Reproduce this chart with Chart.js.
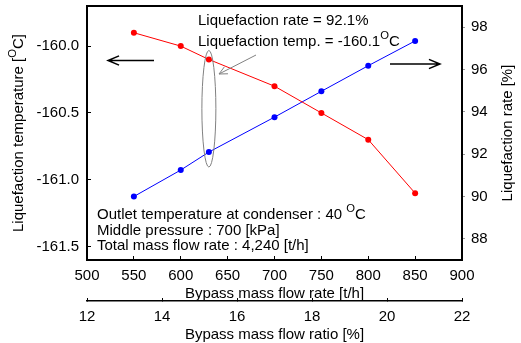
<!DOCTYPE html>
<html>
<head>
    <title>Liquefaction vs bypass flow</title>
    <script src="https://cdn.jsdelivr.net/npm/chart.js"></script>
</head>
<body style="margin: 0; background-color: #ffffff;">
    <div style="width: 521px; height: 343px;">
        <canvas id="myChart" width="521" height="343"></canvas>
    </div>

    <script>
        // Values
        var flowRate = [550, 600, 630, 700, 750, 800, 850];          // [t/h]
        var liqTemp = [-159.90, -160.00, -160.10, -160.30, -160.50, -160.70, -161.10]; // [oC]
        var liqRate = [90.0, 91.25, 92.1, 93.75, 94.97, 96.18, 97.35];  // [%]

        // axis ranges and tick labels
        var flowRange = [500, 900];
        var flowTickVals = [500, 550, 600, 650, 700, 750, 800, 850, 900];
        var ratioRange = [12, 22];
        var ratioTickVals = [12, 14, 16, 18, 20, 22];
        var tempRange = [-161.6, -159.7];
        var tempTickVals = [-161.5, -161.0, -160.5, -160.0];
        var rateRange = [87, 99];
        var rateTickVals = [88, 90, 92, 94, 96, 98];

        var FONT = "'Liberation Sans', Arial, sans-serif";
        var ctx = document.getElementById('myChart').getContext('2d');

        function pts(xs, ys) {
            return xs.map(function (x, i) { return { x: x, y: ys[i] }; });
        }
        function fixedTicks(vals) {
            return function (s) { s.ticks = vals.map(function (v) { return { value: v }; }); };
        }
        // pin the box size and drop the label overhang padding
        function fixSize(w, h) {
            return function (s) {
                if (w) s.width = w;
                if (h) s.height = h;
                s.paddingTop = s.paddingBottom = s.paddingLeft = s.paddingRight = 0;
            };
        }

        // text with superscript parts: segs = [[text, isSup], ...]
        function richWidth(c, segs, size) {
            var w = 0;
            segs.forEach(function (s) {
                c.font = (s[1] ? size * 0.75 : size) + 'px ' + FONT;
                w += c.measureText(s[0]).width;
            });
            return w;
        }
        function drawRich(c, segs, x, y, size) {
            c.textBaseline = 'middle';
            c.textAlign = 'left';
            segs.forEach(function (s) {
                c.font = (s[1] ? size * 0.75 : size) + 'px ' + FONT;
                c.fillText(s[0], x, s[1] ? y - size * 0.38 : y);
                x += c.measureText(s[0]).width;
            });
        }
        function arrow(c, x1, y1, x2, y2, head, spread) {
            var a = Math.atan2(y2 - y1, x2 - x1);
            c.beginPath();
            c.moveTo(x1, y1);
            c.lineTo(x2, y2);
            c.moveTo(x2 - head * Math.cos(a - spread), y2 - head * Math.sin(a - spread));
            c.lineTo(x2, y2);
            c.lineTo(x2 - head * Math.cos(a + spread), y2 - head * Math.sin(a + spread));
            c.stroke();
        }

        var decor = {
            id: 'decor',
            afterDraw: function (chart) {
                var c = chart.ctx;
                var a = chart.chartArea;
                var sx = chart.scales.x, sy = chart.scales.y, sy2 = chart.scales.y2;
                c.save();

                // frame
                c.strokeStyle = '#000';
                c.lineWidth = 2;
                c.strokeRect(a.left, a.top, a.right - a.left, a.bottom - a.top);

                // y titles (both read bottom to top)
                c.fillStyle = '#000';
                var t1 = [['Liquefaction temperature [', 0], ['O', 1], ['C]', 0]];
                c.save();
                c.translate(19, (a.top + a.bottom) / 2);
                c.rotate(-Math.PI / 2);
                drawRich(c, t1, -richWidth(c, t1, 15) / 2, 0, 15);
                c.restore();
                var t2 = [['Liquefaction rate [%]', 0]];
                c.save();
                c.translate(508, (a.top + a.bottom) / 2);
                c.rotate(-Math.PI / 2);
                drawRich(c, t2, -richWidth(c, t2, 15) / 2, 0, 15);
                c.restore();

                // annotation text
                drawRich(c, [['Liquefaction rate = 92.1%', 0]], 198, 21, 15);
                drawRich(c, [['Liquefaction temp. = -160.1', 0], ['O', 1], ['C', 0]], 198, 42, 15);
                drawRich(c, [['Outlet temperature at condenser : 40 ', 0], ['O', 1], ['C', 0]], 97, 215, 15);
                drawRich(c, [['Middle pressure : 700 [kPa]', 0]], 97, 231, 15);
                drawRich(c, [['Total mass flow rate : 4,240 [t/h]', 0]], 97, 246, 15);

                // ellipse round the 630 t/h points
                var ex = sx.getPixelForValue(flowRate[2]);
                var ey1 = sy.getPixelForValue(liqTemp[2]) - 9;
                var ey2 = sy2.getPixelForValue(liqRate[2]) + 15;
                c.strokeStyle = '#808080';
                c.lineWidth = 1;
                c.beginPath();
                c.ellipse(ex, (ey1 + ey2) / 2, 7, (ey2 - ey1) / 2, 0, 0, Math.PI * 2);
                c.stroke();
                arrow(c, 256, 55, 219, 74, 9, 0.45);

                // axis arrows
                c.strokeStyle = '#000';
                c.lineWidth = 1.5;
                arrow(c, 154, 60.5, 108, 60.5, 12, 0.4);
                arrow(c, 390, 64, 440, 64, 12, 0.4);
                c.restore();
            }
        };

        var myChart = new Chart(ctx, {
            type: 'line',
            data: {
                datasets: [
                    {
                        label: 'Liquefaction temperature',
                        data: pts(flowRate, liqTemp),
                        yAxisID: 'y',
                        borderColor: '#ff0000',
                        backgroundColor: '#ff0000',
                        borderWidth: 1,
                        pointRadius: 3,
                        pointBorderWidth: 0,
                        tension: 0
                    },
                    {
                        label: 'Liquefaction rate',
                        data: pts(flowRate, liqRate),
                        yAxisID: 'y2',
                        borderColor: '#0000ff',
                        backgroundColor: '#0000ff',
                        borderWidth: 1,
                        pointRadius: 3,
                        pointBorderWidth: 0,
                        tension: 0
                    }
                ]
            },
            options: {
                responsive: false,
                animation: false,
                layout: { padding: { top: 6, left: 0, right: 0, bottom: 0 } },
                plugins: {
                    legend: { display: false },
                    tooltip: { enabled: false }
                },
                scales: {
                    x: {
                        type: 'linear',
                        position: 'bottom',
                        weight: 0,
                        min: flowRange[0],
                        max: flowRange[1],
                        afterBuildTicks: fixedTicks(flowTickVals),
                        afterFit: fixSize(0, 41),
                        ticks: { color: '#000', padding: 11, font: { family: FONT, size: 15 } },
                        grid: { drawOnChartArea: false, tickLength: -4, color: '#000', tickWidth: 1 },
                        border: { display: false },
                        title: {
                            display: true,
                            text: 'Bypass mass flow rate [t/h]',
                            color: '#000',
                            padding: 0,
                            font: { family: FONT, size: 15, lineHeight: 1 }
                        }
                    },
                    x2: {
                        type: 'linear',
                        position: 'bottom',
                        weight: 1,
                        min: ratioRange[0],
                        max: ratioRange[1],
                        afterBuildTicks: fixedTicks(ratioTickVals),
                        afterFit: fixSize(0, 42),
                        ticks: { color: '#000', padding: 10, font: { family: FONT, size: 15 } },
                        grid: { drawOnChartArea: false, tickLength: -3, color: '#000', tickWidth: 1 },
                        border: { display: true, color: '#000', width: 1.5 },
                        title: {
                            display: true,
                            text: 'Bypass mass flow ratio [%]',
                            color: '#000',
                            padding: { top: 0, bottom: 1 },
                            font: { family: FONT, size: 15, lineHeight: 1 }
                        }
                    },
                    y: {
                        type: 'linear',
                        position: 'left',
                        min: tempRange[0],
                        max: tempRange[1],
                        afterBuildTicks: fixedTicks(tempTickVals),
                        afterFit: fixSize(87, 0),
                        ticks: {
                            color: '#000',
                            padding: 12,
                            font: { family: FONT, size: 15 },
                            callback: function (v) { return v.toFixed(1); }
                        },
                        grid: { drawOnChartArea: false, tickLength: -4, color: '#000', tickWidth: 1 },
                        border: { display: false }
                    },
                    y2: {
                        type: 'linear',
                        position: 'right',
                        min: rateRange[0],
                        max: rateRange[1],
                        afterBuildTicks: fixedTicks(rateTickVals),
                        afterFit: fixSize(59, 0),
                        ticks: {
                            color: '#000',
                            padding: 6,
                            font: { family: FONT, size: 15 }
                        },
                        grid: { drawOnChartArea: false, tickLength: 3, color: '#999', tickWidth: 1 },
                        border: { display: false }
                    }
                }
            },
            plugins: [decor]
        });
    </script>
</body>
</html>
